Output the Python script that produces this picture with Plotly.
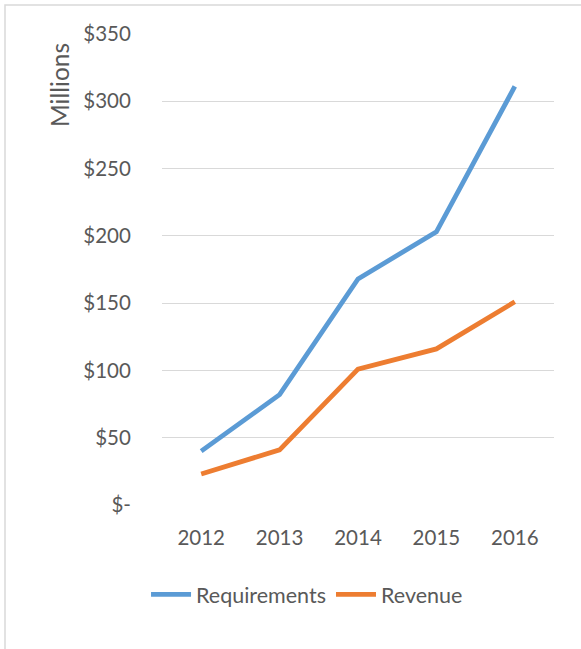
import plotly.graph_objects as go

years = ["2012", "2013", "2014", "2015", "2016"]
requirements = [40, 82, 168, 203, 311]
revenue = [23, 41, 101, 116, 151]
y_tickvals = [0, 50, 100, 150, 200, 250, 300, 350]
y_ticktext = ["$-", "$50", "$100", "$150", "$200", "$250", "$300", "$350"]

FONT = "Lato, 'Open Sans', sans-serif"
TXT = "#595959"

fig = go.Figure()
fig.add_trace(go.Scatter(x=years, y=requirements, mode="lines", name="Requirements",
                         line=dict(color="#5B9BD5", width=4.8)))
fig.add_trace(go.Scatter(x=years, y=revenue, mode="lines", name="Revenue",
                         line=dict(color="#ED7D31", width=4.8)))

fig.update_layout(
    width=581, height=649,
    margin=dict(l=162, r=27, t=34, b=144),
    paper_bgcolor="white", plot_bgcolor="white",
    font=dict(family=FONT, color=TXT, size=20.5),
    showlegend=True,
    legend=dict(orientation="h", x=0.37, xanchor="center", y=-0.19, yanchor="middle",
                font=dict(size=21.5, color=TXT), traceorder="normal", itemwidth=40),
    xaxis=dict(type="category", range=[-0.5, 4.5], showgrid=False, zeroline=False,
               showline=False, ticks="outside", ticklen=14, tickcolor="rgba(0,0,0,0)",
               tickfont=dict(size=20.5, color=TXT)),
    yaxis=dict(range=[0, 350], tickvals=y_tickvals, ticktext=y_ticktext,
               showgrid=True, gridcolor="#d9d9d9", gridwidth=1.3, zeroline=False,
               showline=False, ticks="outside", ticklen=26, tickcolor="rgba(0,0,0,0)",
               tickfont=dict(size=20.5, color=TXT)),
    annotations=[dict(text="Millions", textangle=-90, xref="paper", yref="paper",
                      x=(60 - 162) / 392, y=(505 - 85) / 471, xanchor="center",
                      yanchor="middle", showarrow=False,
                      font=dict(size=24.5, color=TXT, family=FONT))],
    shapes=[dict(type="rect", xref="paper", yref="paper",
                 x0=(5 - 162) / 392, x1=(600 - 162) / 392,
                 y0=(505 - 670) / 471, y1=(505 - 5) / 471,
                 line=dict(color="#d9d9d9", width=1.5), fillcolor="rgba(0,0,0,0)",
                 layer="below")],
)

fig.write_html("out.html", config={"displayModeBar": False},
               post_script="document.body.style.margin='0';document.body.style.overflow='hidden';")
